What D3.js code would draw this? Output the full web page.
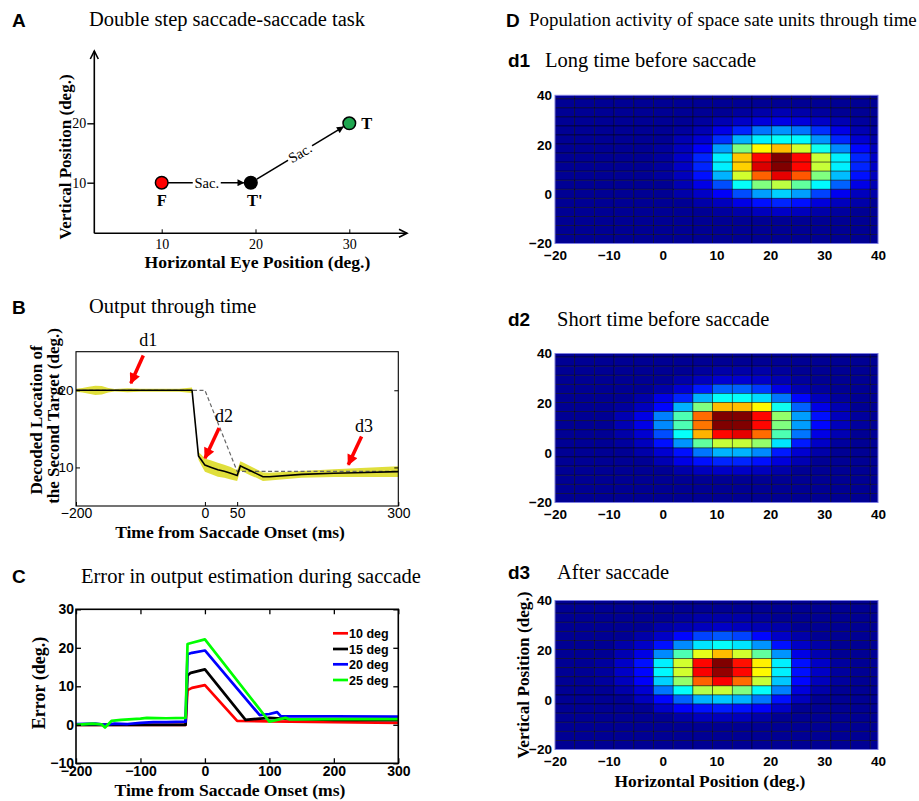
<!DOCTYPE html>
<html><head><meta charset="utf-8">
<script src="https://cdn.jsdelivr.net/npm/d3@7"></script>
<style>body{margin:0;background:#fff} svg{display:block}</style>
</head><body>
<script>
// ================= DATA =================
// Panel A: task layout
const taskLabels = ["F", "T'", "T"];
const taskX = [10, 19.5, 30];
const taskY = [10, 10, 20];
const taskXTicks = [10, 20, 30];
const taskYTicks = [10, 20];

// Panel B: decoded location through time
const bTime    = [-200,-190,-180,-170,-160,-150,-140,-120,-100,-80,-60,-40,-20,-10,-5,0,10,20,30,40,50,55,60,70,80,90,100,150,200,250,300];
const bDecoded = [20,20,20,20,20,20,20,20,20,20,20,20,20,11.5,10.9,10.3,10.0,9.7,9.5,9.25,8.95,10.2,10.0,9.6,9.2,8.8,8.8,9.1,9.25,9.35,9.45];
const bBandHalf= [0.2,0.3,0.45,0.6,0.55,0.3,0.15,0.25,0.2,0.2,0.2,0.2,0.35,0.5,0.7,0.85,0.9,0.9,0.85,0.8,0.7,0.6,0.6,0.6,0.55,0.55,0.5,0.45,0.5,0.6,0.7];
const bIdealTime = [-200, 0, 50, 300];
const bIdeal     = [20, 20, 9.5, 9.5];
const bXTicks = [-200, 0, 50, 300];
const bYTicks = [10, 20];
const bMarkLabels   = ["d1", "d2", "d3"];
const bMarkTipTime  = [-115, 0.1, 222.4];
const bMarkTipValue = [20.9, 11.2, 10.35];
const bMarkTailTime = [-95.6, 22, 243];
const bMarkTailValue= [24.5, 15.1, 14.0];
const bMarkTextTime = [-88, 29.6, 246.8];
const bMarkTextValue= [25.8, 15.9, 14.6];

// Panel C: error during saccade
const errLabels = ["10 deg", "15 deg", "20 deg", "25 deg"];
const err10Time = [-200,-30,-27,-20,0,50,100,200,300];
const err10Val  = [0,0,9.0,9.6,10.3,1.0,0.9,0.7,0.5];
const err15Time = [-200,-30,-27,-22,0,63,100,130,200,300];
const err15Val  = [0,0,12.8,13.5,14.4,1.3,1.8,1.5,1.3,1.2];
const err20Time = [-200,-170,-155,-140,-120,-100,-80,-60,-30,-27,-20,0,85,100,112,118,200,300];
const err20Val  = [0.2,0.3,0,0.3,0.2,0.5,0.7,0.7,0.8,18.3,18.7,19.3,2.5,2.8,3.3,2.2,2.2,2.1];
const err25Time = [-200,-175,-160,-155,-145,-130,-100,-90,-60,-30,-27,-20,0,100,115,125,132,200,300];
const err25Val  = [0,0.3,0.1,-0.7,1.0,1.3,1.6,1.8,1.7,1.8,21,21.3,22.2,0.8,1.4,1.8,1.4,1.5,1.5];
const cXTicks = [-200,-100,0,100,200,300];
const cYTicks = [-10,0,10,20,30];

// Panel D: population activity (rows top -> bottom, columns left -> right), normalised 0..1
const heatXTicks = [-20,-10,0,10,20,30,40];
const heatYTicks = [-20,0,20,40];
const cellStep = 3.66;
const gridOrigin = -20;
const bg = [.02,.02,.02,.02,.02,.02,.02,.02,.02,.02,.02,.02,.02,.02,.02,.02,.02];
const actD1 = [
 bg, bg,
 [.02,.02,.02,.02,.02,.02,.02,.02,.02,.03,.04,.05,.04,.03,.02,.02,.02],
 [.02,.02,.02,.02,.02,.02,.02,.03,.05,.07,.09,.10,.09,.07,.05,.03,.02],
 [.02,.02,.02,.02,.02,.02,.03,.05,.10,.16,.24,.27,.24,.17,.10,.05,.03],
 [.02,.02,.02,.02,.02,.02,.05,.08,.17,.30,.36,.38,.37,.27,.16,.08,.04],
 [.02,.02,.02,.02,.02,.03,.06,.12,.28,.50,.63,.69,.58,.39,.26,.13,.06],
 [.02,.02,.02,.02,.02,.03,.07,.16,.36,.68,.87,1.0,.87,.57,.36,.16,.07],
 [.02,.02,.02,.02,.02,.03,.07,.16,.36,.67,.91,1.0,.87,.57,.36,.16,.07],
 [.02,.02,.02,.02,.02,.03,.06,.14,.30,.58,.78,.90,.79,.50,.31,.14,.06],
 [.02,.02,.02,.02,.02,.02,.05,.10,.20,.38,.50,.56,.47,.37,.22,.10,.05],
 [.02,.02,.02,.02,.02,.02,.04,.07,.12,.20,.28,.33,.28,.19,.11,.06,.04],
 [.02,.02,.02,.02,.02,.02,.02,.04,.06,.10,.14,.16,.14,.09,.06,.04,.02],
 [.02,.02,.02,.02,.02,.02,.02,.02,.03,.04,.06,.07,.06,.04,.03,.02,.02],
 bg, bg, bg
];
const actD2 = [
 bg, bg,
 [.02,.02,.02,.02,.02,.02,.02,.03,.04,.04,.04,.03,.02,.02,.02,.02,.02],
 [.02,.02,.02,.02,.02,.02,.04,.06,.08,.08,.07,.05,.03,.02,.02,.02,.02],
 [.02,.02,.02,.02,.02,.04,.08,.15,.22,.22,.18,.10,.05,.03,.02,.02,.02],
 [.02,.02,.02,.02,.04,.10,.16,.30,.38,.38,.34,.24,.13,.06,.03,.02,.02],
 [.02,.02,.02,.03,.06,.13,.30,.50,.69,.69,.63,.39,.22,.10,.05,.02,.02],
 [.02,.02,.02,.05,.10,.25,.45,.77,1.0,1.0,.87,.52,.28,.14,.06,.03,.02],
 [.02,.02,.02,.05,.10,.26,.45,.76,1.0,1.0,.87,.50,.28,.13,.06,.03,.02],
 [.02,.02,.02,.04,.08,.20,.38,.70,.87,.90,.77,.45,.24,.10,.05,.02,.02],
 [.02,.02,.02,.03,.06,.14,.27,.47,.57,.57,.52,.35,.15,.07,.03,.02,.02],
 [.02,.02,.02,.02,.04,.08,.14,.24,.30,.30,.26,.15,.08,.04,.02,.02,.02],
 [.02,.02,.02,.02,.02,.05,.10,.14,.16,.16,.14,.09,.05,.02,.02,.02,.02],
 [.02,.02,.02,.02,.02,.02,.04,.06,.07,.07,.06,.04,.02,.02,.02,.02,.02],
 bg, bg, bg
];
const actD3 = [
 bg, bg,
 [.02,.02,.02,.02,.02,.02,.03,.04,.04,.04,.03,.02,.02,.02,.02,.02,.02],
 [.02,.02,.02,.02,.02,.04,.05,.06,.07,.06,.05,.04,.02,.02,.02,.02,.02],
 [.02,.02,.02,.02,.04,.07,.13,.19,.21,.19,.13,.07,.04,.02,.02,.02,.02],
 [.02,.02,.02,.04,.07,.14,.26,.35,.38,.35,.27,.14,.07,.04,.02,.02,.02],
 [.02,.02,.02,.05,.10,.26,.45,.60,.69,.58,.47,.27,.10,.05,.02,.02,.02],
 [.02,.02,.03,.07,.14,.36,.58,.87,1.0,.86,.64,.36,.14,.07,.03,.02,.02],
 [.02,.02,.03,.07,.13,.37,.58,.88,.98,.87,.63,.36,.14,.07,.03,.02,.02],
 [.02,.02,.03,.06,.12,.33,.52,.78,.88,.77,.57,.32,.13,.06,.03,.02,.02],
 [.02,.02,.02,.04,.08,.24,.38,.55,.57,.50,.38,.25,.09,.04,.02,.02,.02],
 [.02,.02,.02,.02,.06,.13,.22,.30,.32,.30,.24,.14,.06,.02,.02,.02,.02],
 [.02,.02,.02,.02,.02,.07,.12,.14,.15,.14,.12,.07,.02,.02,.02,.02,.02],
 [.02,.02,.02,.02,.02,.02,.04,.06,.06,.06,.04,.02,.02,.02,.02,.02,.02],
 bg, bg, bg
];

// ================= DRAWING =================
const SERIF = "'Liberation Serif','Times New Roman',serif";
const SANS  = "'Liberation Sans',Arial,sans-serif";
const svg = d3.select("body").append("svg").attr("width", 919).attr("height", 801);
svg.append("rect").attr("width", 919).attr("height", 801).attr("fill", "#fff");
const defs = svg.append("defs");
function marker(id, color, w, h) {
  defs.append("marker").attr("id", id).attr("viewBox", "0 0 10 10")
    .attr("refX", 9).attr("refY", 5).attr("markerUnits", "userSpaceOnUse")
    .attr("markerWidth", w).attr("markerHeight", h).attr("orient", "auto")
    .append("path").attr("d", "M0,0 L10,5 L0,10 z").attr("fill", color);
}
marker("arrK", "#000", 9, 7);
marker("arrR", "#f00", 12, 11);

function text(g, x, y, s, o = {}) {
  const t = g.append("text").attr("x", x).attr("y", y).text(s)
    .attr("font-family", o.family || SERIF).attr("font-size", o.size || 18)
    .attr("font-weight", o.weight || "normal").attr("fill", o.fill || "#000")
    .attr("text-anchor", o.anchor || "start");
  if (o.rotate !== undefined) t.attr("transform", `rotate(${o.rotate},${x},${y})`);
  if (o.dy) t.attr("dy", o.dy);
  return t;
}
function styleAxis(g, family, size, weight) {
  g.select(".domain").remove();
  g.selectAll("text").attr("font-family", family).attr("font-size", size).attr("font-weight", weight).attr("fill", "#000");
  g.selectAll("line").attr("stroke", "#000");
}
const TITLE = 20.5;

// ---------- Panel A ----------
const gA = svg.append("g");
text(gA, 12, 27, "A", {family: SANS, weight: "bold", size: 19});
text(gA, 89, 26, "Double step saccade-saccade task", {size: TITLE});
const xA = d3.scaleLinear().domain([0, 30]).range([67.9, 349.3]);
const yA = d3.scaleLinear().domain([10, 20]).range([182.7, 123.3]);
const axX = 94.3, axY = 233.3;
gA.append("line").attr("x1", axX).attr("y1", axY).attr("x2", axX).attr("y2", 51).attr("stroke", "#000").attr("stroke-width", 1.6);
gA.append("path").attr("d", `M${axX-4},${59} L${axX},${51} L${axX+4},${59}`).attr("fill", "none").attr("stroke", "#000").attr("stroke-width", 1.6);
gA.append("line").attr("x1", axX).attr("y1", axY).attr("x2", 407).attr("y2", axY).attr("stroke", "#000").attr("stroke-width", 1.6);
gA.append("path").attr("d", `M${399},${axY-4} L${407},${axY} L${399},${axY+4}`).attr("fill", "none").attr("stroke", "#000").attr("stroke-width", 1.6);
const ayA = gA.append("g").attr("transform", `translate(${axX},0)`)
  .call(d3.axisLeft(yA).tickValues(taskYTicks).tickSize(7).tickPadding(1).tickFormat(d3.format("d")));
styleAxis(ayA, SERIF, 14, "normal");
ayA.selectAll("line").attr("stroke-width", 1.4);
const axA = gA.append("g").attr("transform", `translate(0,${axY})`)
  .call(d3.axisBottom(xA).tickValues(taskXTicks).tickSize(-4).tickPadding(5.5).tickFormat(d3.format("d")));
styleAxis(axA, SERIF, 14, "normal");
text(gA, 257.5, 268, "Horizontal Eye Position (deg.)", {weight: "bold", size: 17.6, anchor: "middle"});
text(gA, 71, 157, "Vertical Position (deg.)", {weight: "bold", size: 17, anchor: "middle", rotate: -90});
// arrows
const pF = [xA(taskX[0]), yA(taskY[0])], pT1 = [xA(taskX[1]), yA(taskY[1])], pT = [xA(taskX[2]), yA(taskY[2])];
gA.append("line").attr("x1", pF[0] + 6).attr("y1", pF[1]).attr("x2", pT1[0] - 7).attr("y2", pT1[1])
  .attr("stroke", "#000").attr("stroke-width", 1.6).attr("marker-end", "url(#arrK)");
const ang = Math.atan2(pT[1] - pT1[1], pT[0] - pT1[0]);
gA.append("line").attr("x1", pT1[0] + 7 * Math.cos(ang)).attr("y1", pT1[1] + 7 * Math.sin(ang))
  .attr("x2", pT[0] - 7 * Math.cos(ang)).attr("y2", pT[1] - 7 * Math.sin(ang))
  .attr("stroke", "#000").attr("stroke-width", 1.6).attr("marker-end", "url(#arrK)");
const sx1 = (pF[0] + pT1[0]) / 2 + 0.5;
gA.append("rect").attr("x", sx1 - 14).attr("y", pF[1] - 8).attr("width", 28).attr("height", 16).attr("fill", "#fff");
text(gA, sx1, pF[1] + 5, "Sac.", {size: 14.5, anchor: "middle"});
const mx = pT1[0] + (pT[0] - pT1[0]) * 0.5, my = pT1[1] + (pT[1] - pT1[1]) * 0.5;
const gS = gA.append("g").attr("transform", `translate(${mx},${my}) rotate(${ang * 180 / Math.PI})`);
gS.append("rect").attr("x", -14).attr("y", -8).attr("width", 28).attr("height", 16).attr("fill", "#fff");
text(gS, 0, 5, "Sac.", {size: 14.5, anchor: "middle"});
const taskFill = ["#ff0000", "#000000", "#1fa650"];
gA.selectAll("circle.task").data(taskX).join("circle").attr("class", "task")
  .attr("cx", (d) => xA(d)).attr("cy", (d, i) => yA(taskY[i])).attr("r", 6.3)
  .attr("fill", (d, i) => taskFill[i]).attr("stroke", "#000").attr("stroke-width", 1.5);
text(gA, pF[0], 206, taskLabels[0], {weight: "bold", size: 16.5, anchor: "middle"});
text(gA, pT1[0] + 4, 206, taskLabels[1], {weight: "bold", size: 16.5, anchor: "middle"});
text(gA, pT[0] + 12, 129, taskLabels[2], {weight: "bold", size: 16.5});

// ---------- Panel B ----------
const gB = svg.append("g");
text(gB, 12, 314, "B", {family: SANS, weight: "bold", size: 19});
text(gB, 89, 313, "Output through time", {size: TITLE});
const xB = d3.scaleLinear().domain([-200, 300]).range([76, 398.3]);
const yB = d3.scaleLinear().domain([5, 25]).range([506, 351.7]);
const bData = bTime.map((t, i) => ({t, v: bDecoded[i], h: bBandHalf[i]}));
gB.append("path").datum(bData).attr("fill", "#e0df3c")
  .attr("d", d3.area().x(d => xB(d.t)).y0(d => yB(d.v - d.h)).y1(d => yB(d.v + d.h)));
gB.append("path").datum(bIdealTime.map((t, i) => ({t, v: bIdeal[i]})))
  .attr("fill", "none").attr("stroke", "#666").attr("stroke-width", 1.2).attr("stroke-dasharray", "4,2.5")
  .attr("d", d3.line().x(d => xB(d.t)).y(d => yB(d.v)));
gB.append("path").datum(bData).attr("fill", "none").attr("stroke", "#000").attr("stroke-width", 1.6)
  .attr("d", d3.line().x(d => xB(d.t)).y(d => yB(d.v)));
gB.append("rect").attr("x", 76).attr("y", 351.7).attr("width", 322.3).attr("height", 154.3)
  .attr("fill", "none").attr("stroke", "#000").attr("stroke-width", 1.1);
const bxAx = gB.append("g").attr("transform", "translate(0,506)")
  .call(d3.axisBottom(xB).tickValues(bXTicks).tickSize(-4).tickPadding(2));
styleAxis(bxAx, SANS, 14, "normal");
const byAx = gB.append("g").attr("transform", "translate(76,0)")
  .call(d3.axisLeft(yB).tickValues(bYTicks).tickSize(-4).tickPadding(2.5));
styleAxis(byAx, SANS, 13.5, "normal");
const byAxR = gB.append("g").attr("transform", "translate(398.3,0)")
  .call(d3.axisRight(yB).tickValues(bYTicks).tickSize(-4).tickFormat(""));
styleAxis(byAxR, SANS, 14, "normal");
text(gB, 230, 538, "Time from Saccade Onset (ms)", {weight: "bold", size: 17.5, anchor: "middle"});
text(gB, 41.5, 420, "Decoded Location of", {weight: "bold", size: 17, anchor: "middle", rotate: -90});
text(gB, 58.5, 416, "the Second Target (deg.)", {weight: "bold", size: 17, anchor: "middle", rotate: -90});
bMarkLabels.forEach((lab, i) => {
  gB.append("line").attr("x1", xB(bMarkTailTime[i])).attr("y1", yB(bMarkTailValue[i]))
    .attr("x2", xB(bMarkTipTime[i])).attr("y2", yB(bMarkTipValue[i]))
    .attr("stroke", "#f00").attr("stroke-width", 3.5).attr("marker-end", "url(#arrR)");
  text(gB, xB(bMarkTextTime[i]), yB(bMarkTextValue[i]), lab, {size: 18, anchor: "middle"});
});

// ---------- Panel C ----------
const gC = svg.append("g");
text(gC, 12, 583, "C", {family: SANS, weight: "bold", size: 19});
text(gC, 81, 583, "Error in output estimation during saccade", {size: TITLE});
const xC = d3.scaleLinear().domain([-200, 300]).range([76, 398.3]);
const yC = d3.scaleLinear().domain([-10, 30]).range([763.3, 609.3]);
const cSeries = [
  {t: err10Time, v: err10Val, c: "#ff0000"},
  {t: err15Time, v: err15Val, c: "#000000"},
  {t: err20Time, v: err20Val, c: "#0000ff"},
  {t: err25Time, v: err25Val, c: "#00ff00"}
];
const gClip = gC.append("g");
cSeries.forEach(s => {
  gClip.append("path").datum(s.t.map((t, i) => ({t, v: s.v[i]})))
    .attr("fill", "none").attr("stroke", s.c).attr("stroke-width", 2.7).attr("stroke-linejoin", "round")
    .attr("d", d3.line().x(d => xC(d.t)).y(d => yC(d.v)));
});
gC.append("rect").attr("x", 76).attr("y", 609.3).attr("width", 322.3).attr("height", 154)
  .attr("fill", "none").attr("stroke", "#000").attr("stroke-width", 1.6);
const cxAx = gC.append("g").attr("transform", "translate(0,763.3)")
  .call(d3.axisBottom(xC).tickValues(cXTicks).tickSize(-5).tickPadding(3));
styleAxis(cxAx, SANS, 14, "bold");
const cxAxT = gC.append("g").attr("transform", "translate(0,609.3)")
  .call(d3.axisTop(xC).tickValues(cXTicks).tickSize(-5).tickFormat(""));
styleAxis(cxAxT, SANS, 14, "bold");
const cyAx = gC.append("g").attr("transform", "translate(76,0)")
  .call(d3.axisLeft(yC).tickValues(cYTicks).tickSize(-5).tickPadding(2));
styleAxis(cyAx, SANS, 14, "bold");
const cyAxR = gC.append("g").attr("transform", "translate(398.3,0)")
  .call(d3.axisRight(yC).tickValues(cYTicks).tickSize(-5).tickFormat(""));
styleAxis(cyAxR, SANS, 14, "bold");
gC.selectAll("g.tick line").attr("stroke-width", 1.3);
text(gC, 230, 796, "Time from Saccade Onset (ms)", {weight: "bold", size: 17.6, anchor: "middle"});
text(gC, 45, 683, "Error (deg.)", {weight: "bold", size: 18, anchor: "middle", rotate: -90});
const legY = [633.3, 649, 664.3, 680];
errLabels.forEach((lab, i) => {
  gC.append("line").attr("x1", 333).attr("x2", 348).attr("y1", legY[i]).attr("y2", legY[i])
    .attr("stroke", cSeries[i].c).attr("stroke-width", 2.7);
  text(gC, 349, legY[i], lab, {family: SANS, weight: "bold", size: 12.5, dy: "0.36em"});
});

// ---------- Panel D ----------
const gD = svg.append("g");
text(gD, 506, 27, "D", {family: SANS, weight: "bold", size: 19});
text(gD, 529, 26, "Population activity of space sate units through time", {size: 18.9});
const jet = d3.scaleLinear().domain([0, .125, .375, .625, .875, 1])
  .range(["#000080", "#0000ff", "#00ffff", "#ffff00", "#ff0000", "#800000"]).clamp(true);
const heatPanels = [
  {id: "d1", title: "Long time before saccade", data: actD1, top: 95.3, bottom: 243.5, lab: 67, tx: 545},
  {id: "d2", title: "Short time before saccade", data: actD2, top: 353.5, bottom: 502.5, lab: 326, tx: 557},
  {id: "d3", title: "After saccade", data: actD3, top: 600.5, bottom: 749.5, lab: 579, tx: 557}
];
heatPanels.forEach((p, k) => {
  const g = gD.append("g");
  text(g, 508, p.lab, p.id, {family: SANS, weight: "bold", size: 19});
  text(g, p.tx, p.lab, p.title, {size: TITLE});
  const x = d3.scaleLinear().domain([-20, 40]).range([555, 878]);
  const y = d3.scaleLinear().domain([-20, 40]).range([p.bottom, p.top]);
  defs.append("clipPath").attr("id", "clip" + k).append("rect")
    .attr("x", 555).attr("y", p.top).attr("width", 323).attr("height", p.bottom - p.top);
  const n = p.data.length;
  const cells = [];
  p.data.forEach((row, r) => row.forEach((v, i) => {
    const j = n - 1 - r;
    cells.push({x0: gridOrigin + i * cellStep, y0: gridOrigin + j * cellStep, v});
  }));
  g.append("g").attr("clip-path", `url(#clip${k})`).selectAll("rect").data(cells).join("rect")
    .attr("x", d => x(d.x0)).attr("y", d => y(d.y0 + cellStep))
    .attr("width", d => x(d.x0 + cellStep) - x(d.x0)).attr("height", d => y(d.y0) - y(d.y0 + cellStep))
    .attr("fill", d => jet(d.v)).attr("stroke", "#000").attr("stroke-opacity", 0.6).attr("stroke-width", 0.75);
  g.append("rect").attr("x", 555).attr("y", p.top).attr("width", 323).attr("height", p.bottom - p.top)
    .attr("fill", "none").attr("stroke", "#7d7de0").attr("stroke-width", 1);
  const ax = g.append("g").attr("transform", `translate(0,${p.bottom})`)
    .call(d3.axisBottom(x).tickValues(heatXTicks).tickSize(0).tickPadding(6.5));
  styleAxis(ax, SANS, 13.5, "bold");
  const ay = g.append("g").attr("transform", "translate(555,0)")
    .call(d3.axisLeft(y).tickValues(heatYTicks).tickSize(0).tickPadding(3));
  styleAxis(ay, SANS, 13.5, "bold");
});
text(gD, 529, 675, "Vertical Position (deg.)", {weight: "bold", size: 17.2, anchor: "middle", rotate: -90});
text(gD, 710, 787, "Horizontal Position (deg.)", {weight: "bold", size: 17.4, anchor: "middle"});
</script>
</body></html>
